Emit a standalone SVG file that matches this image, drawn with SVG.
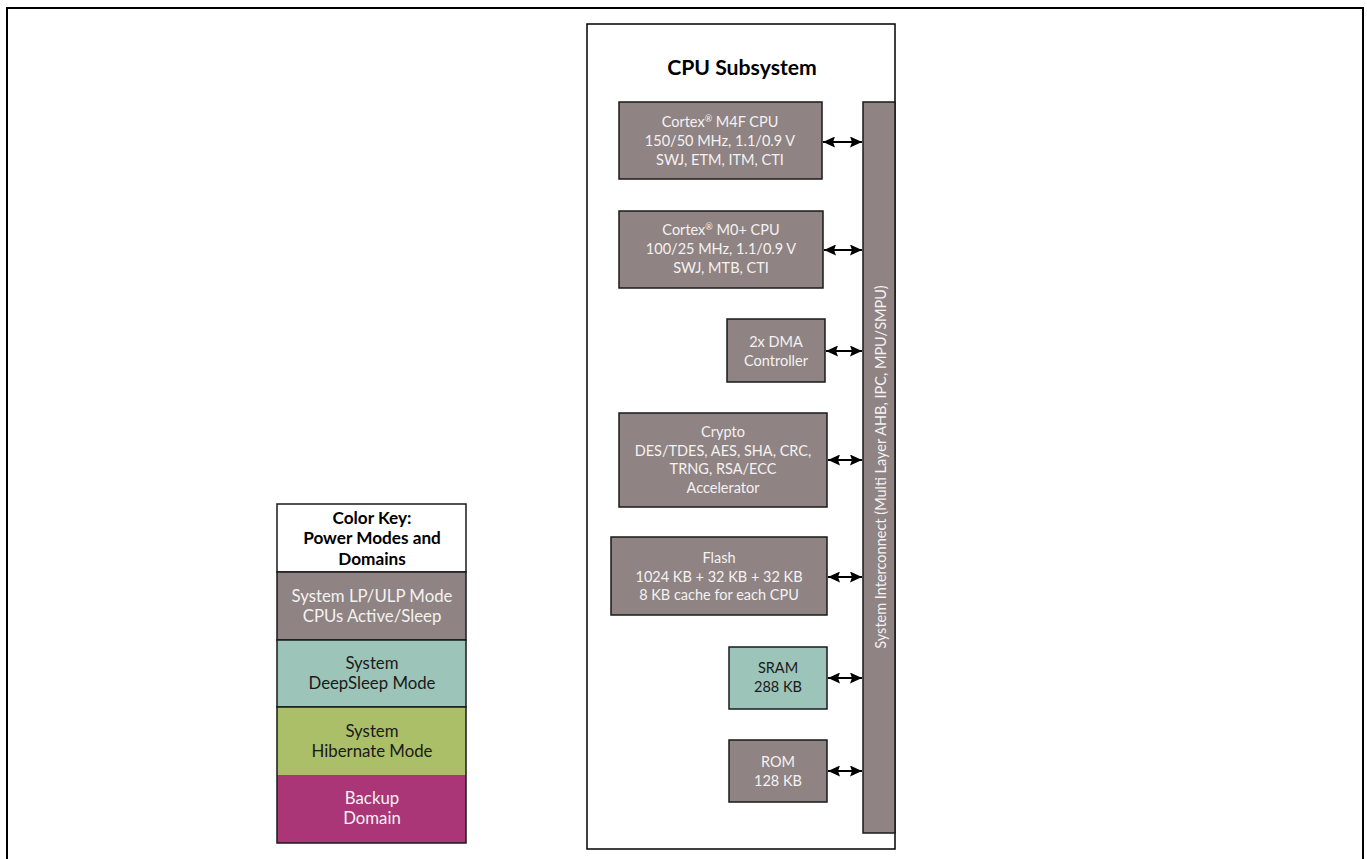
<svg xmlns="http://www.w3.org/2000/svg" width="1367" height="859" viewBox="0 0 1367 859">
  <style>
    text { font-family: Lato, "Open Sans", "Liberation Sans", sans-serif; font-size: 14.5px; text-anchor: middle; }
    .lt { fill: #f4f2f2; }
    .dk { fill: #1a1a1a; }
    .b { font-weight: bold; fill: #000; }
    .key { font-size: 16.8px; }
    .keyh { font-size: 17.2px; }
    .blk { stroke: #1a1a1a; stroke-width: 1.5; }
    .grey { fill: #8f8383; }
    .teal { fill: #9cc4b8; }
    .green { fill: #abbe68; }
    .mag { fill: #aa3678; }
    .conn { stroke: #000; stroke-width: 2; fill: none; marker-start: url(#ah); marker-end: url(#ah); }
  </style>
  <defs>
    <marker id="ah" viewBox="0 0 12 11" refX="12" refY="5.5" markerWidth="12" markerHeight="11" orient="auto-start-reverse" markerUnits="userSpaceOnUse">
      <path d="M0,0 L12,5.5 L0,11 L2,5.5 z" fill="#000"/>
    </marker>
  </defs>

  <rect width="1367" height="859" fill="#fff"/>
  <!-- outer frame -->
  <rect x="7" y="8" width="1356" height="870" fill="none" stroke="#000" stroke-width="2"/>

  <!-- CPU subsystem container -->
  <g id="cpu-subsystem">
    <rect x="587" y="24" width="308" height="825" fill="#fff" stroke="#000" stroke-width="1.5"/>
    <text x="742" y="75" class="b" style="font-size:21.2px">CPU Subsystem</text>
  </g>

  <!-- system interconnect bus -->
  <g id="interconnect">
    <rect x="863" y="102" width="32" height="731" class="grey blk"/>
    <text class="lt" transform="translate(886,467) rotate(-90)">System Interconnect (Multi Layer AHB, IPC, MPU/SMPU)</text>
  </g>

  <g id="m4f">
    <rect x="619" y="102" width="203" height="77" class="grey blk"/>
    <text class="lt" x="720" y="127">Cortex<tspan style="font-size:9px" dy="-5">®</tspan><tspan dy="5"> M4F CPU</tspan></text>
    <text class="lt" x="720" y="146">150/50 MHz, 1.1/0.9 V</text>
    <text class="lt" x="720" y="165">SWJ, ETM, ITM, CTI</text>
  </g>

  <g id="m0">
    <rect x="619" y="211" width="204" height="77" class="grey blk"/>
    <text class="lt" x="721" y="235">Cortex<tspan style="font-size:9px" dy="-5">®</tspan><tspan dy="5"> M0+ CPU</tspan></text>
    <text class="lt" x="721" y="254">100/25 MHz, 1.1/0.9 V</text>
    <text class="lt" x="721" y="273">SWJ, MTB, CTI</text>
  </g>

  <g id="dma">
    <rect x="727" y="319" width="98" height="63" class="grey blk"/>
    <text class="lt" x="776" y="347">2x DMA</text>
    <text class="lt" x="776" y="366">Controller</text>
  </g>

  <g id="crypto">
    <rect x="619" y="413" width="208" height="94" class="grey blk"/>
    <text class="lt" x="723" y="437">Crypto</text>
    <text class="lt" x="723" y="456">DES/TDES, AES, SHA, CRC,</text>
    <text class="lt" x="723" y="474">TRNG, RSA/ECC</text>
    <text class="lt" x="723" y="493">Accelerator</text>
  </g>

  <g id="flash">
    <rect x="611" y="537" width="216" height="78" class="grey blk"/>
    <text class="lt" x="719" y="563">Flash</text>
    <text class="lt" x="719" y="582">1024 KB + 32 KB + 32 KB</text>
    <text class="lt" x="719" y="600">8 KB cache for each CPU</text>
  </g>

  <g id="sram">
    <rect x="729" y="647" width="98" height="62" class="teal blk"/>
    <text class="dk" x="778" y="673">SRAM</text>
    <text class="dk" x="778" y="692">288 KB</text>
  </g>

  <g id="rom">
    <rect x="729" y="740" width="98" height="62" class="grey blk"/>
    <text class="lt" x="778" y="767">ROM</text>
    <text class="lt" x="778" y="786">128 KB</text>
  </g>

  <!-- bus connections -->
  <g id="connectors">
    <line class="conn" x1="823" y1="142" x2="862" y2="142"/>
    <line class="conn" x1="824" y1="250" x2="862" y2="250"/>
    <line class="conn" x1="826" y1="351" x2="862" y2="351"/>
    <line class="conn" x1="828" y1="460" x2="862" y2="460"/>
    <line class="conn" x1="828" y1="577" x2="862" y2="577"/>
    <line class="conn" x1="828" y1="678" x2="862" y2="678"/>
    <line class="conn" x1="828" y1="771" x2="862" y2="771"/>
  </g>

  <!-- colour key -->
  <g id="color-key">
    <rect x="277" y="504" width="189" height="68" fill="#fff" class="blk"/>
    <text class="b keyh" x="372" y="524">Color Key:</text>
    <text class="b keyh" x="372" y="544">Power Modes and</text>
    <text class="b keyh" x="372" y="565">Domains</text>

    <rect x="277" y="572" width="189" height="68" class="grey blk"/>
    <text class="lt key" x="372" y="602">System LP/ULP Mode</text>
    <text class="lt key" x="372" y="622">CPUs Active/Sleep</text>

    <rect x="277" y="640" width="189" height="67" class="teal blk"/>
    <text class="dk key" x="372" y="669">System</text>
    <text class="dk key" x="372" y="689">DeepSleep Mode</text>

    <rect x="277" y="707" width="189" height="68" class="green" stroke="none"/>
    <rect x="277" y="775" width="189" height="68" class="mag" stroke="none"/>
    <rect x="277" y="707" width="189" height="136" fill="none" class="blk"/>
    <text class="dk key" x="372" y="737">System</text>
    <text class="dk key" x="372" y="757">Hibernate Mode</text>
    <text class="lt key" x="372" y="804">Backup</text>
    <text class="lt key" x="372" y="824">Domain</text>
  </g>
</svg>
